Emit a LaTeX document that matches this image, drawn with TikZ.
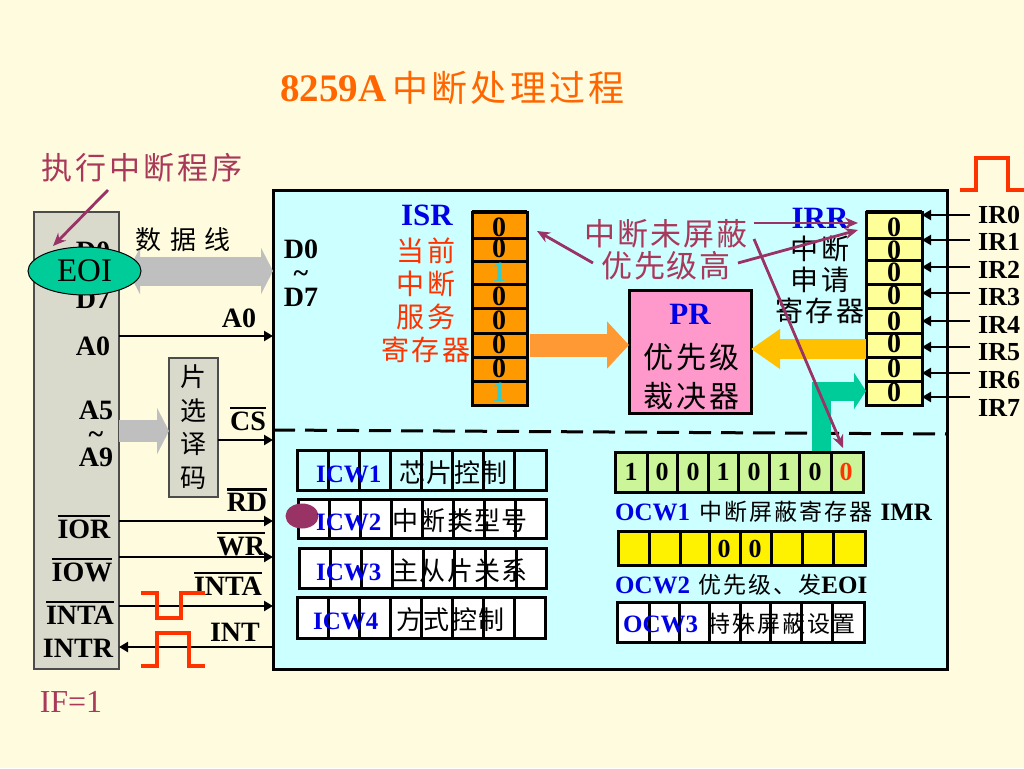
\documentclass[tikz,border=0pt]{standalone}
\usepackage{fontspec}
\setmainfont{Liberation Serif}
\newfontfamily\cjk{Noto Sans CJK SC}
\usetikzlibrary{arrows.meta,shapes.geometric}
\definecolor{paper}{RGB}{254,251,222}
\definecolor{panel}{RGB}{204,255,255}
\definecolor{cpugray}{RGB}{217,217,204}
\definecolor{busgray}{RGB}{191,191,191}
\definecolor{wine}{RGB}{170,56,90}
\definecolor{plum}{RGB}{153,51,102}
\definecolor{chipblue}{RGB}{0,0,230}
\definecolor{redor}{RGB}{255,51,0}
\definecolor{titleor}{RGB}{255,102,0}
\definecolor{teal1}{RGB}{0,204,153}
\definecolor{isrfill}{RGB}{255,153,0}
\definecolor{irrfill}{RGB}{255,255,153}
\definecolor{greenfill}{RGB}{204,245,153}
\definecolor{pink1}{RGB}{255,153,204}
\definecolor{cyan1}{RGB}{51,204,204}
\definecolor{oarrow}{RGB}{255,153,51}
\definecolor{yarrow}{RGB}{255,192,0}
\newcommand\ovl[1]{\vbox{\hrule height 2.4pt\kern 3pt\hbox{#1}}}
\newcommand\zh[2]{\mdseries\cjk\addfontfeature{LetterSpace=#2}\fontsize{#1}{#1}\selectfont}
\tikzset{
  x=1pt,y=-1pt,
  rect/.style={rectangle,draw=black,line width=3pt,inner sep=0pt,outer sep=0pt},
  cn/.style n args={3}{inner sep=0pt,align=center,font=\cjk\fontsize{#1}{#2}\selectfont\addfontfeature{LetterSpace=#3}},
  lat/.style n args={2}{inner sep=0pt,align=center,font=\bfseries\fontsize{#1}{#2}\selectfont},
  wire/.style={line width=2.7pt,-{Triangle[length=9pt,width=10pt]}},
  plumarrow/.style={draw=plum,line width=2.8pt,-{Stealth[length=13pt,width=11pt]}},
  pulse/.style={draw=redor,line width=3.2pt},
  dig/.style={inner sep=0pt,font=\bfseries\fontsize{28}{28}\selectfont},
  cdig/.style={inner sep=0pt,font=\bfseries\fontsize{26}{26}\selectfont},
  rowtxt/.style={inner sep=0pt,anchor=west,font=\bfseries\fontsize{25}{25}\selectfont},
  blockarrow/.style n args={4}{draw=#1,line width=#2pt,-{Triangle[length=#3pt,width=#4pt]}}
}
\newcommand\bx[6][]{%
  \pgfmathsetmacro\bxw{#5-#3}\pgfmathsetmacro\bxh{#6-#4}%
  \pgfmathsetmacro\bxx{(#3+#5)/2}\pgfmathsetmacro\bxy{(#4+#6)/2}%
  \node[rect,#1,minimum width=\bxw pt,minimum height=\bxh pt] (#2) at (\bxx,\bxy) {};}
% horizontal row of cells: fill, name, y1, y2, x boundaries
\newcommand\regrow[5]{%
  \foreach \xb [count=\ci,remember=\xb as \xa] in {#5} {%
    \ifnum\ci>1 \pgfmathtruncatemacro\cj{\ci-1}\bx[fill=#1]{#2\cj}{\xa}{#3}{\xb}{#4}\fi}}
% vertical column of cells: fill, name, x1, x2, y boundaries
\newcommand\regcol[5]{%
  \foreach \yb [count=\ci,remember=\yb as \ya] in {#5} {%
    \ifnum\ci>1 \pgfmathtruncatemacro\cj{\ci-1}\bx[fill=#1]{#2\cj}{#3}{\ya}{#4}{\yb}\fi}}
\begin{document}
\begin{tikzpicture}
\useasboundingbox (0,0) rectangle (1024,768);
\fill[paper] (0,0) rectangle (1024,768);

% title
\node[inner sep=0pt,anchor=west,font=\bfseries\fontsize{39}{39}\selectfont,text=titleor] (title) at (280,88)
  {8259A\hspace{6pt}{\zh{36}{9}中断处理过程}};

% large boxes
\bx[draw=black!70,line width=1.2pt,fill=cpugray]{cpu}{34}{212}{119}{669}
\bx[fill=panel]{main}{273}{190}{947}{669}
\bx[draw=black!70,line width=1.2pt,fill=cpugray]{decoder}{169}{358}{218}{497}

% dashed separator
\coordinate (dashL) at (273,430);
\coordinate (dashR) at (947,434);
\draw[line width=3pt,dash pattern=on 22pt off 10pt] (dashL) -- (dashR);

% bus block arrows
\coordinate (busL) at (128,271);
\draw[draw=busgray,line width=29pt,{Triangle[length=12pt,width=46pt]}-{Triangle[length=12pt,width=46pt]}] (busL) -- (main.west |- 0,271);
\draw[blockarrow={busgray}{22}{12}{46}] (cpu.east |- 0,431) -- (decoder.west |- 0,431);

% left side labels
\node[lat={28}{24}] (cpuD) at (93,275) {D0\\\textasciitilde\\D7};
\node[lat={28}{25}] (cpuA0) at (93,346) {A0};
\node[lat={28}{23.5}] (cpuA5) at (96,434) {A5\\\textasciitilde\\A9};
\node[lat={28}{25}] (cpuIOR) at (84,527) {\ovl{IOR}};
\node[lat={28}{25}] (cpuIOW) at (82,570) {\ovl{IOW}};
\node[lat={28}{25}] (cpuINTA) at (80,613) {\ovl{INTA}};
\node[lat={28}{25}] (cpuINTR) at (78,648) {INTR};
\node[inner sep=0pt,text=wine,font=\fontsize{32}{32}\selectfont] (iflag) at (71,702) {IF=1};

% EOI
\node[ellipse,draw=black,line width=1pt,fill=teal1,minimum width=113pt,minimum height=48pt,inner sep=0pt,font=\fontsize{33}{33}\selectfont] (eoi) at (84.5,271) {EOI};

% execution caption
\node[cn={31}{31}{10},text=wine] (exec) at (142,168) {执行中断程序};
\coordinate (execArrow) at (108,190);
\coordinate (execTip) at (53,246);
\draw[plumarrow] (execArrow) -- (execTip);

% data line caption
\node[cn={26}{26}{9}] (datalabel) at (183,240) {数 据 线};
\node[lat={28}{24}] (mainD) at (301,273) {D0\\\textasciitilde\\D7};

% signal lines
\draw[wire] (cpu.east |- 0,336) -- (main.west |- 0,336);
\node[lat={28}{25}] (lA0) at (239,318) {A0};
\draw[wire] (decoder.east |- 0,440) -- (main.west |- 0,440);
\node[lat={28}{25}] (lCS) at (248,419) {\ovl{CS}};
\draw[wire] (cpu.east |- 0,521) -- (main.west |- 0,521);
\node[lat={28}{25}] (lRD) at (247,500) {\ovl{RD}};
\draw[wire] (cpu.east |- 0,557) -- (main.west |- 0,557);
\node[lat={28}{25}] (lWR) at (241,544) {\ovl{WR}};
\draw[wire] (cpu.east |- 0,606) -- (main.west |- 0,606);
\node[lat={28}{25}] (lINTA) at (228,584) {\ovl{INTA}};
\draw[wire] (main.west |- 0,647) -- (cpu.east |- 0,647);
\node[lat={28}{25}] (lINT) at (235,632) {INT};

% decoder text
\node[cn={26}{33.5}{0}] (dectext) at (193,427) {片\\选\\译\\码};

% red pulses
\draw[pulse] (141,593) -- (157,593) -- (157,618) -- (181,618) -- (181,593) -- (205,593);
\draw[pulse] (141,666) -- (157,666) -- (157,633) -- (189,633) -- (189,666) -- (205,666);
\draw[pulse] (960,190) -- (976,190) -- (976,158) -- (1008,158) -- (1008,190) -- (1024,190);

% ISR
\node[lat={31}{31},text=chipblue] (isrname) at (427,215) {ISR};
\node[cn={28}{33}{8},text=redor] (isrtext) at (426,300) {当前\\中断\\服务\\寄存器};
\regcol{isrfill}{isr}{472}{527}{212,238,261,284,308,333,357,381,405}
\draw[line width=4pt] (isr1.north west) -- (isr1.north east);
\foreach \d/\yy/\c [count=\i] in {0/227/black,0/248/black,1/272/cyan1,0/296/black,0/320/black,0/344/black,0/368/black,1/392/cyan1}
  \node[dig,text=\c] (isrd\i) at (499,\yy) {\d};

% PR
\bx[fill=pink1]{pr}{629}{290}{751}{413}
\node[lat={31}{31},text=chipblue] (prname) at (690,314) {PR};
\node[cn={30}{39}{10}] (prtext) at (691,377) {优先级\\裁决器};

% IRR
\regcol{irrfill}{irr}{866}{922}{212,238,260,284,308,333,357,381,405}
\draw[line width=4pt] (irr1.north west) -- (irr1.north east);
\foreach \yy [count=\i] in {227,250,272,295,321,343,368,392}
  \node[dig] (irrd\i) at (894,\yy) {0};

% block arrows to PR
\draw[blockarrow={oarrow}{23}{22}{46},shorten <=3pt] (isr6.east) -- (pr.west |- isr6.east);
\draw[blockarrow={yarrow}{20}{29}{38}] (irr6.west |- 0,349) -- (pr.east |- 0,349);

\node[lat={31}{31},text=chipblue] (irrname) at (820,218) {IRR};
\node[cn={28}{31}{8}] (irrtext) at (820,280) {中断\\申请\\寄存器};

% IR inputs
\foreach \ya/\yl [count=\i from 0] in {215/215,240/242,267/270,293/297,321/325,347/352,373/380,397/408} {
  \node[lat={26}{26},anchor=west] (irl\i) at (978,\yl) {IR\i};
  \coordinate (irs\i) at (970,\ya);
  \pgfmathtruncatemacro\k{\i+1}
  \draw[wire] (irs\i) -- (irr\k.east |- irs\i);
}

% ICW rows
\regrow{panel}{icwa}{450}{490}{297,328,359,390,421,452,483,514,546}
\regrow{white}{icwb}{499}{538}{298,329,360,391,422,453,484,515,546}
\regrow{white}{icwc}{548}{588}{299,330,361,392,423,454,485,516,546}
\regrow{white}{icwd}{597}{638}{297,328,359,390,421,452,483,514,545}
\node[ellipse,fill=plum,minimum width=33pt,minimum height=25pt,inner sep=0pt] (dot) at (302,516) {};
\node[rowtxt] (icwt1) at (316,473) {\textcolor{chipblue}{ICW1}\hspace{18pt}{\zh{26}{5}芯片控制}};
\node[rowtxt] (icwt2) at (316,521) {\textcolor{chipblue}{ICW2}\hspace{11pt}{\zh{26}{5}中断类型号}};
\node[rowtxt] (icwt3) at (316,571) {\textcolor{chipblue}{ICW3}\hspace{11pt}{\zh{26}{5}主从片关系}};
\node[rowtxt] (icwt4) at (313,620) {\textcolor{chipblue}{ICW4}\hspace{18pt}{\zh{26}{5}方式控制}};

% OCW rows
\regrow{greenfill}{ocwa}{452}{492}{615,647,677,708,738,769,799,831,863}
\regrow{yellow}{ocwb}{531}{565}{618,649,680,709,740,771,802,833,865}
\regrow{white}{ocwc}{602}{642}{617,649,679,709,740,770,801,832,864}
\foreach \d/\xx/\c [count=\i] in {1/631/black,0/662/black,0/693/black,1/723/black,0/754/black,1/784/black,0/815/black,0/846/redor}
  \node[cdig,text=\c] (ocwd\i) at (\xx,472) {\d};
\node[cdig] (ocwe1) at (724,549) {0};
\node[cdig] (ocwe2) at (755,549) {0};
\node[rowtxt] (ocwt1) at (615,512) {\textcolor{chipblue}{OCW1}\hspace{9pt}{\zh{23}{9}中断屏蔽寄存器}\hspace{8pt}IMR};
\node[rowtxt] (ocwt2) at (615,585) {\textcolor{chipblue}{OCW2}\hspace{8pt}{\zh{23}{9}优先级、发}EOI};
\node[rowtxt] (ocwt3) at (623,624) {\textcolor{chipblue}{OCW3}\hspace{9pt}{\zh{23}{9}特殊屏蔽设置}};

% green bent arrow
\coordinate (gstem) at (821,451);
\draw[draw=teal1,line width=19pt,-{Triangle[length=12pt,width=36pt]}] (gstem) |- (irr8.west |- 0,391);
% redraw IMR top edge over arrow foot
\draw[line width=3pt] (ocwa7.north west) -- (ocwa7.north east);

% unmasked caption and arrows
\node[cn={31}{32.5}{6},text=wine] (unmask) at (666,250) {中断未屏蔽\\优先级高};
\coordinate (pm1) at (593,263);
\coordinate (pm2) at (754,223);
\coordinate (pm3) at (738,263);
\coordinate (pm4) at (754,239);
\coordinate (pt1) at (537,231);
\coordinate (pt2) at (858,223);
\coordinate (pt3) at (858,230);
\coordinate (pt4) at (843,448);
\draw[plumarrow] (pm1) -- (pt1);
\draw[plumarrow] (pm2) -- (pt2);
\draw[plumarrow] (pm3) -- (pt3);
\draw[plumarrow] (pm4) -- (pt4);
\end{tikzpicture}
\end{document}
